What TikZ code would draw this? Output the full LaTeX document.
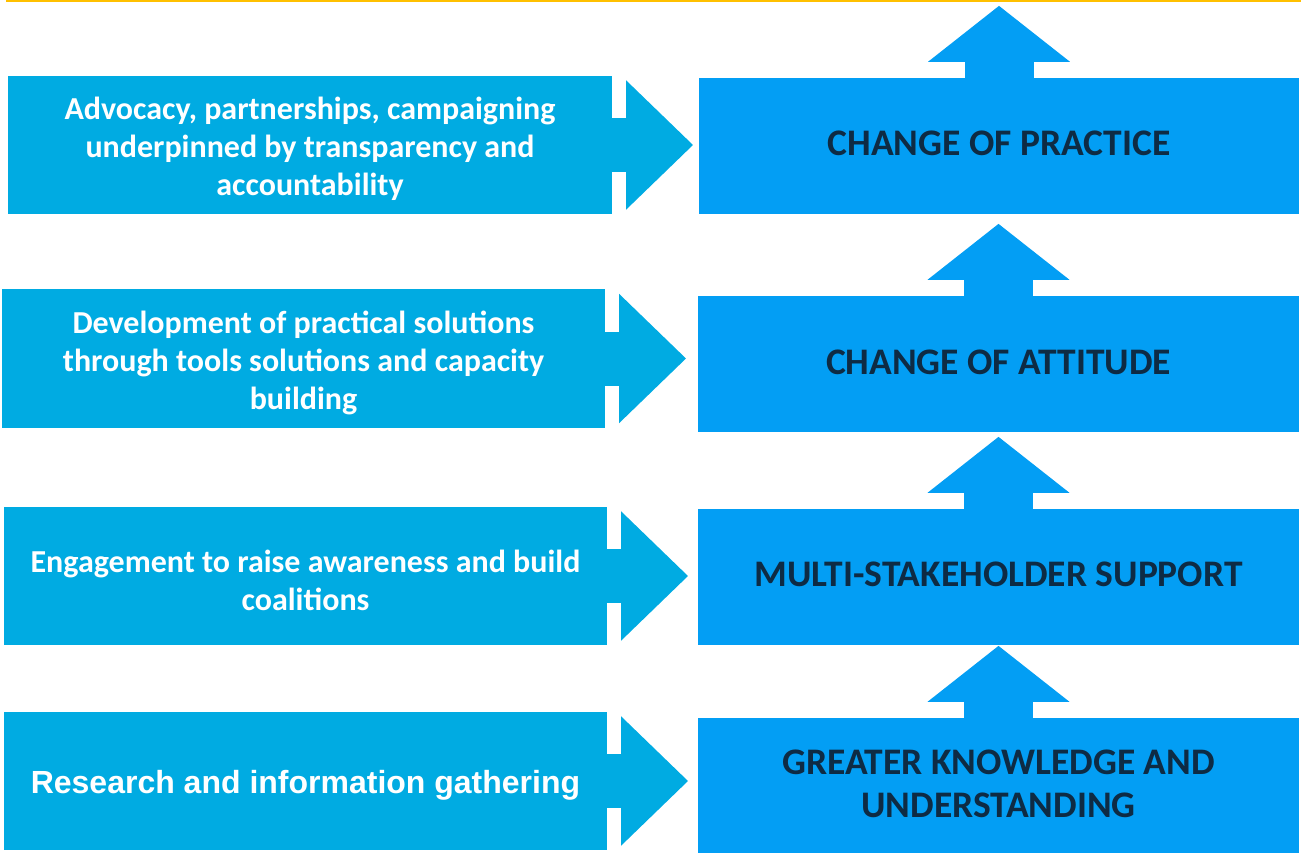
\documentclass[tikz,border=0pt]{standalone}
\usepackage{fontspec}
\setmainfont{Carlito}
\newfontfamily\arialfont{Liberation Sans}
\usetikzlibrary{arrows.meta}

\definecolor{sidecyan}{RGB}{0,171,226}
\definecolor{stageblue}{RGB}{3,158,244}
\definecolor{stagetext}{RGB}{14,43,68}
\definecolor{rulegold}{RGB}{255,192,0}

\tikzset{
  actionbox/.style={fill=sidecyan, draw=none, minimum width=603pt, minimum height=138pt, inner sep=0pt},
  actiontext/.style={inner sep=0pt, text=white, align=center, font=\bfseries\fontsize{32}{38}\selectfont},
  stagebox/.style={fill=stageblue, draw=none, minimum width=601pt, minimum height=136pt, inner sep=0pt},
  stagetxt/.style={inner sep=0pt, text=stagetext, align=center, font=\bfseries\fontsize{37.5}{43}\selectfont},
  pushright/.style={sidecyan, line width=54pt, -{Triangle[length=67pt,width=125pt]}},
  pushup/.style={stageblue, line width=69pt, -{Triangle[length=56pt,width=139pt]}},
}

\begin{document}
\begin{tikzpicture}[x=1pt, y=-1pt]
  \useasboundingbox (0,0) rectangle (1301,853);
  \fill[rulegold] (6,0) rectangle (1301,2.5);

  % activities on the left
  \node[actionbox, minimum width=604pt] (b1) at (310,145) {};
  \node[actionbox, minimum height=139pt] (b2) at (303.5,358.5) {};
  \node[actionbox] (b3) at (305.5,576) {};
  \node[actionbox] (b4) at (305.5,781) {};

  \node[actiontext] (b1t) at ([yshift=-4pt]b1.center)
    {Advocacy, partnerships, campaigning\\underpinned by transparency and\\accountability};
  \node[actiontext] (b2t) at ([yshift=-4pt]b2.center)
    {Development of practical solutions\\through tools solutions and capacity\\building};
  \node[actiontext] (b3t) at ([yshift=-4pt]b3.center)
    {Engagement to raise awareness and build\\coalitions};
  \node[actiontext, font=\arialfont\bfseries\fontsize{32}{38}\selectfont] (b4t)
    at ([yshift=-4pt]b4.center) {Research and information gathering};

  % outcome stages on the right
  \node[stagebox, minimum width=600pt] (r1) at (999,146) {};
  \node[stagebox] (r2) at (998.5,364) {};
  \node[stagebox] (r3) at (998.5,577) {};
  \node[stagebox, minimum height=135pt] (r4) at (998.5,785.5) {};

  \node[stagetxt] (r1t) at ([yshift=3pt]r1.center) {CHANGE OF PRACTICE};
  \node[stagetxt] (r2t) at ([yshift=2pt]r2.center) {CHANGE OF ATTITUDE};
  \node[stagetxt] (r3t) at ([yshift=3pt]r3.center) {MULTI-STAKEHOLDER SUPPORT};
  \node[stagetxt] (r4t) at ([yshift=2pt]r4.center) {GREATER KNOWLEDGE AND\\UNDERSTANDING};

  % arrows from activities to outcomes
  \foreach \b in {b1,b2,b3,b4}
    \draw[pushright] ([xshift=-2pt]\b.east) -- ++(83,0);

  % arrows climbing the stages
  \foreach \r in {r1,r2,r3,r4}
    \draw[pushup] ([yshift=-1pt]\r.north) -- ++(0,-73);
\end{tikzpicture}
\end{document}
